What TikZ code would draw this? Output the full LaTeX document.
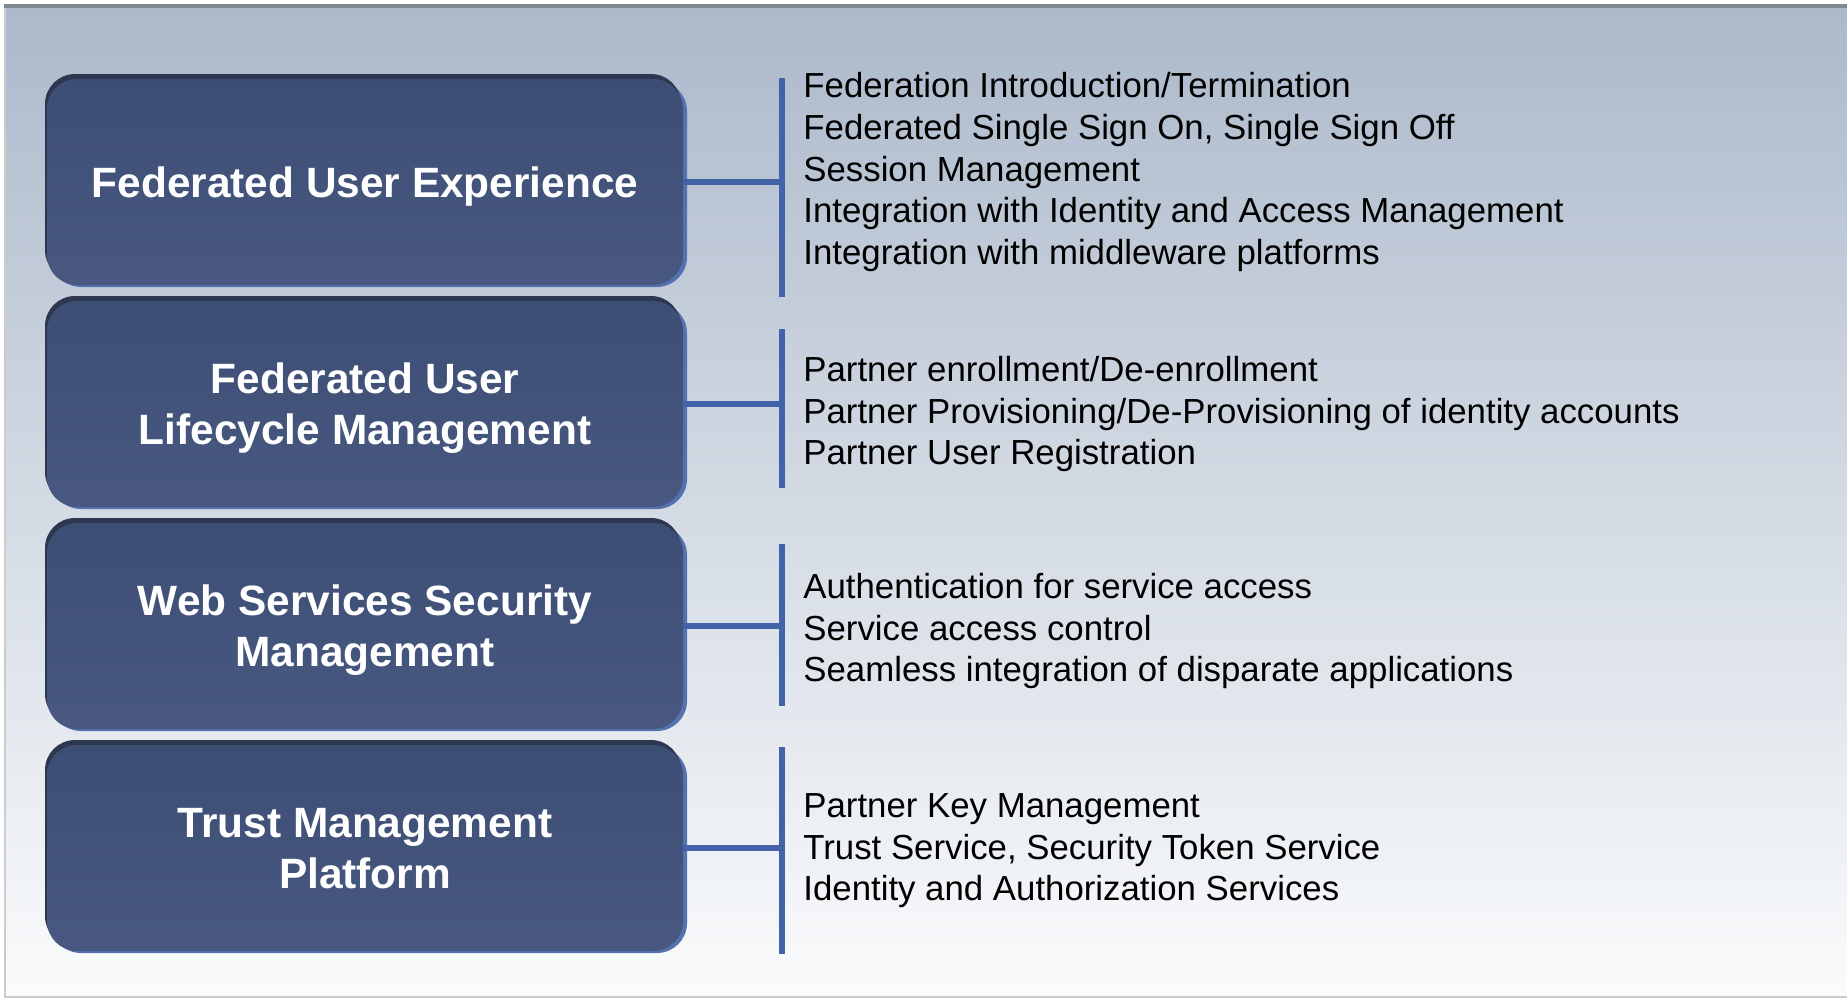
\documentclass[tikz,border=0pt]{standalone}
\usepackage{fontspec}
\setmainfont{Liberation Sans}
\usetikzlibrary{shadows}

\definecolor{bgtop}{RGB}{172,185,203}
\definecolor{bgbot}{RGB}{250,251,252}
\definecolor{boxfill}{RGB}{61,78,117}
\definecolor{boxlow}{RGB}{72,88,128}
\definecolor{boxtop}{RGB}{45,55,80}
\definecolor{boxedge}{RGB}{84,114,176}
\definecolor{barblue}{RGB}{66,99,168}
\definecolor{rimgray}{RGB}{127,135,144}

\begin{document}
\begin{tikzpicture}[
        x=0.5pt, y=-0.5pt,
        % --- 樣式設定 ---
        blk/.style={rounded corners=15pt, minimum width=318pt, minimum height=103pt,
            top color=boxfill, bottom color=boxlow, text=white, align=center,
            text depth=0pt, font=\fontsize{21.2}{25.5}\selectfont\bfseries,
            general shadow={fill=boxedge, shadow xshift=2pt, shadow yshift=-1pt},
            general shadow={fill=boxtop, shadow yshift=2.5pt, shadow xshift=-1pt}},
        items/.style={anchor=west, inner sep=0pt, align=left, text=black,
            font=\fontsize{17.4}{20.8}\selectfont},
        bar/.style={draw=barblue, line width=3pt}
        % --------------------
    ]
    \useasboundingbox (0,0) rectangle (1847,998);

    % 背景
    \shade[top color=bgtop, bottom color=bgbot] (4,4) rectangle (1847,998);
    \draw[rimgray, line width=2pt] (4,6) -- (1847,6);
    \draw[gray!40, line width=0.8pt] (5,8) -- (5,997) -- (1847,997);

    % 左側方塊
    \node[blk] (fue) at (365,182) {Federated User Experience};
    \node[blk] (fulm) at (365,404) {Federated User\\Lifecycle Management};
    \node[blk] (wssm) at (365,626) {Web Services Security\\Management};
    \node[blk] (tmp) at (365,848) {Trust Management\\Platform};

    % 右側說明
    \node[items] (l1) at (803,172) {Federation Introduction/Termination\\
        Federated Single Sign On, Single Sign Off\\Session Management\\
        Integration with Identity and Access Management\\
        Integration with middleware platforms};
    \node[items] (l2) at (803,414) {Partner enrollment/De-enrollment\\
        Partner Provisioning/De-Provisioning of identity accounts\\
        Partner User Registration};
    \node[items] (l3) at (803,631) {Authentication for service access\\
        Service access control\\Seamless integration of disparate applications};
    \node[items] (l4) at (803,851) {Partner Key Management\\
        Trust Service, Security Token Service\\Identity and Authorization Services};

    % 括號線
    \coordinate (t1) at (782,78);  \coordinate (b1) at (782,297);
    \coordinate (t2) at (782,329); \coordinate (b2) at (782,488);
    \coordinate (t3) at (782,544); \coordinate (b3) at (782,706);
    \coordinate (t4) at (782,747); \coordinate (b4) at (782,954);
    \foreach \bx/\i in {fue/1, fulm/2, wssm/3, tmp/4} {
        \draw[bar] (t\i) -- (b\i);
        \draw[bar] (\bx.east) -- (\bx.east -| t\i);
    }
\end{tikzpicture}
\end{document}
